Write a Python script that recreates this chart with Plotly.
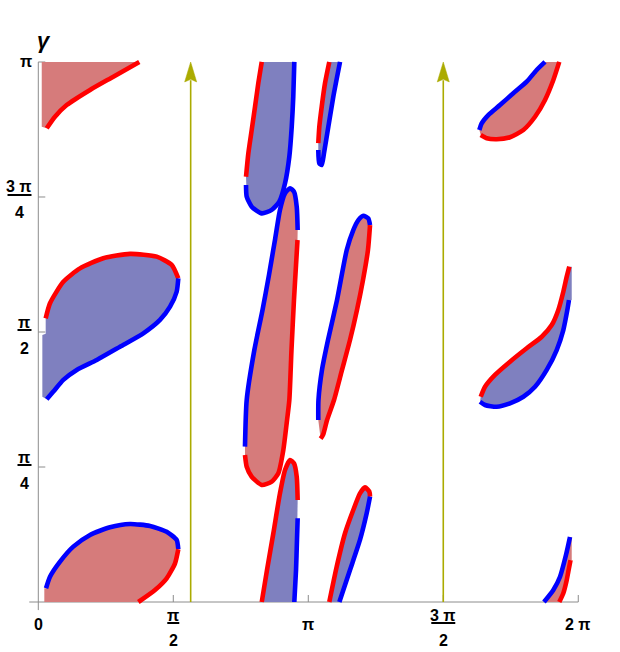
import numpy as np
import plotly.graph_objects as go

PI = np.pi

# ---------------- data (radians) ----------------
# Region A (top-left, red fill)
A_red_x = [0.098, 0.194, 0.330, 0.602, 0.873, 1.175]
A_red_y = [2.756, 2.823, 2.891, 2.979, 3.056, 3.142]
A_edge_x = [0.040, 0.040]
A_edge_y = [3.142, 2.765]

# Region B (left middle, blue fill)
B_red_x = [0.086, 0.136, 0.291, 0.485, 0.756, 1.067, 1.378, 1.552, 1.629]
B_red_y = [1.650, 1.738, 1.863, 1.941, 2.000, 2.025, 2.009, 1.961, 1.883]
B_blue_x = [1.629, 1.610, 1.533, 1.416, 1.222, 0.951, 0.680, 0.447, 0.291, 0.175, 0.098]
B_blue_y = [1.883, 1.805, 1.718, 1.641, 1.563, 1.485, 1.408, 1.350, 1.292, 1.224, 1.179]
B_edge_x = [0.047, 0.047, 0.086]
B_edge_y = [1.194, 1.553, 1.560]

# Region C (bottom-left, red fill)
C_blue_x = [0.090, 0.136, 0.253, 0.407, 0.602, 0.834, 1.067, 1.300, 1.494, 1.610, 1.629]
C_blue_y = [0.080, 0.147, 0.235, 0.322, 0.390, 0.435, 0.454, 0.442, 0.409, 0.361, 0.307]
C_red_x = [1.629, 1.591, 1.494, 1.358, 1.164]
C_red_y = [0.307, 0.225, 0.138, 0.070, 0.0]
C_edge_x = [0.070, 0.070]
C_edge_y = [0.0, 0.080]

# Region D (top centre, blue fill)
D_red_x = [2.600, 2.560, 2.522, 2.483, 2.444, 2.417]
D_red_y = [3.142, 3.018, 2.882, 2.746, 2.610, 2.474]
D_blue_x = [2.417, 2.425, 2.483, 2.600, 2.716, 2.804, 2.871, 2.921, 2.949, 2.967, 2.979]
D_blue_y = [2.426, 2.358, 2.300, 2.261, 2.281, 2.329, 2.436, 2.591, 2.765, 2.940, 3.142]

# Region E (centre tall, red fill)
E_blue_x = [2.405, 2.425, 2.514, 2.609, 2.684, 2.734, 2.754, 2.812, 2.871, 2.929, 2.975, 3.007, 3.018]
E_blue_y = [0.904, 1.175, 1.466, 1.699, 1.902, 2.048, 2.106, 2.281, 2.378, 2.407, 2.387, 2.300, 2.164]
E_red_x = [3.016, 2.999, 2.975, 2.946, 2.921, 2.890, 2.851, 2.793, 2.716, 2.600, 2.483, 2.425, 2.405]
E_red_y = [2.106, 1.961, 1.757, 1.466, 1.175, 1.040, 0.884, 0.749, 0.700, 0.681, 0.729, 0.787, 0.855]

# Region I (bottom centre, blue fill)
I_red_x = [2.600, 2.661, 2.735, 2.812, 2.871, 2.929, 2.975, 3.007, 3.018]
I_red_y = [0.0, 0.186, 0.400, 0.632, 0.768, 0.826, 0.807, 0.729, 0.593]
I_blue_x = [3.018, 3.010, 2.999, 2.979]
I_blue_y = [0.487, 0.361, 0.186, 0.0]

# Region H (bottom right of centre, blue fill)
H_red_x = [3.386, 3.472, 3.569, 3.665, 3.743, 3.802, 3.852, 3.860]
H_red_y = [0.0, 0.205, 0.400, 0.535, 0.632, 0.667, 0.642, 0.613]
H_blue_x = [3.860, 3.821, 3.743, 3.627, 3.503]
H_blue_y = [0.613, 0.516, 0.361, 0.186, 0.0]

# Region F (small top, blue fill)
F_red_x = [3.386, 3.336, 3.298, 3.270, 3.258]
F_red_y = [3.142, 3.018, 2.882, 2.765, 2.669]
F_blue_x = [3.258, 3.270, 3.298, 3.324, 3.375, 3.433, 3.511]
F_blue_y = [2.630, 2.552, 2.542, 2.610, 2.765, 2.940, 3.142]

# Region G (centre right, red fill)
G_blue_x = [3.258, 3.260, 3.301, 3.371, 3.476, 3.589, 3.665, 3.724, 3.782, 3.840, 3.860]
G_blue_y = [1.059, 1.175, 1.350, 1.524, 1.757, 2.048, 2.164, 2.222, 2.247, 2.232, 2.193]
G_red_x = [3.860, 3.836, 3.778, 3.708, 3.627, 3.534, 3.441, 3.360, 3.313, 3.285]
G_red_y = [2.193, 2.048, 1.873, 1.699, 1.524, 1.350, 1.175, 1.059, 0.972, 0.950]

# Region J (top right, red fill)
J_blue_x = [5.896, 5.799, 5.683, 5.527, 5.372, 5.236, 5.159, 5.132]
J_blue_y = [3.142, 3.095, 3.027, 2.960, 2.891, 2.833, 2.785, 2.746]
J_red_x = [5.148, 5.218, 5.334, 5.489, 5.644, 5.780, 5.896, 5.993, 6.062]
J_red_y = [2.717, 2.698, 2.692, 2.704, 2.746, 2.823, 2.921, 3.037, 3.142]

# Region K (right middle, blue fill)
K_red_x = [6.179, 6.149, 6.109, 6.051, 5.974, 5.858, 5.683, 5.489, 5.314, 5.198, 5.148]
K_red_y = [1.951, 1.893, 1.805, 1.699, 1.611, 1.543, 1.476, 1.398, 1.321, 1.252, 1.194]
K_blue_x = [5.140, 5.198, 5.334, 5.489, 5.644, 5.780, 5.916, 6.032, 6.109, 6.156, 6.175]
K_blue_y = [1.165, 1.146, 1.136, 1.156, 1.194, 1.252, 1.350, 1.466, 1.582, 1.699, 1.757]
K_edge_x = [6.207, 6.207]
K_edge_y = [1.757, 1.951]

# Region L (bottom right, red fill)
L_blue_x = [5.884, 5.993, 6.071, 6.140, 6.187]
L_blue_y = [0.0, 0.070, 0.147, 0.273, 0.378]
L_red_x = [6.062, 6.109, 6.149, 6.167, 6.193]
L_red_y = [0.0, 0.051, 0.128, 0.176, 0.244]
L_edge_x = [6.207, 6.207]
L_edge_y = [0.378, 0.244]

# vertical arrows
arrow_x = [1.773, 3 * PI / 2]

# ticks
x_tick_vals = [PI / 2, PI, 3 * PI / 2, 2 * PI]
y_tick_vals = [PI / 4, PI / 2, 3 * PI / 4, PI]

# ---------------- styles ----------------
RED_FILL = "rgb(214,123,123)"
BLUE_FILL = "rgb(127,128,191)"
RED_LINE = "rgb(255,0,0)"
BLUE_LINE = "rgb(0,0,255)"
ARROW = "rgb(171,171,0)"
AXIS = "rgb(140,140,140)"
LW = 4.6
FONT = "Liberation Sans"
FS = 16

fig = go.Figure()


def poly(*parts):
    xs, ys = [], []
    for px, py in parts:
        xs += list(px)
        ys += list(py)
    return xs, ys


def rev(a):
    return list(a)[::-1]


regions = [
    (RED_FILL, poly((A_red_x, A_red_y), (A_edge_x, A_edge_y))),
    (BLUE_FILL, poly((B_red_x, B_red_y), (B_blue_x, B_blue_y), (B_edge_x, B_edge_y))),
    (RED_FILL, poly((C_blue_x, C_blue_y), (C_red_x, C_red_y), (C_edge_x, C_edge_y))),
    (BLUE_FILL, poly((D_red_x, D_red_y), (D_blue_x, D_blue_y))),
    (RED_FILL, poly((E_blue_x, E_blue_y), (E_red_x, E_red_y))),
    (BLUE_FILL, poly((I_red_x, I_red_y), (I_blue_x, I_blue_y))),
    (BLUE_FILL, poly((H_red_x, H_red_y), (H_blue_x, H_blue_y))),
    (BLUE_FILL, poly((F_red_x, F_red_y), (F_blue_x, F_blue_y))),
    (RED_FILL, poly((G_blue_x, G_blue_y), (G_red_x, G_red_y))),
    (RED_FILL, poly((J_blue_x, J_blue_y), (J_red_x, J_red_y))),
    (BLUE_FILL, poly((K_red_x, K_red_y), (K_blue_x, K_blue_y), (K_edge_x, K_edge_y))),
    (RED_FILL, poly((L_blue_x, L_blue_y), (L_edge_x, L_edge_y), (rev(L_red_x), rev(L_red_y)))),
]

for col, (xs, ys) in regions:
    fig.add_trace(go.Scatter(x=xs, y=ys, mode="lines", fill="toself", fillcolor=col,
                             line=dict(width=0, color=col), hoverinfo="skip"))

curves = [
    (RED_LINE, A_red_x, A_red_y),
    (RED_LINE, B_red_x, B_red_y), (BLUE_LINE, B_blue_x, B_blue_y),
    (BLUE_LINE, C_blue_x, C_blue_y), (RED_LINE, C_red_x, C_red_y),
    (RED_LINE, D_red_x, D_red_y), (BLUE_LINE, D_blue_x, D_blue_y),
    (BLUE_LINE, E_blue_x, E_blue_y), (RED_LINE, E_red_x, E_red_y),
    (RED_LINE, I_red_x, I_red_y), (BLUE_LINE, I_blue_x, I_blue_y),
    (RED_LINE, H_red_x, H_red_y), (BLUE_LINE, H_blue_x, H_blue_y),
    (RED_LINE, F_red_x, F_red_y), (BLUE_LINE, F_blue_x, F_blue_y),
    (BLUE_LINE, G_blue_x, G_blue_y), (RED_LINE, G_red_x, G_red_y),
    (BLUE_LINE, J_blue_x, J_blue_y), (RED_LINE, J_red_x, J_red_y),
    (RED_LINE, K_red_x, K_red_y), (BLUE_LINE, K_blue_x, K_blue_y),
    (BLUE_LINE, L_blue_x, L_blue_y), (RED_LINE, L_red_x, L_red_y),
]
for col, xs, ys in curves:
    fig.add_trace(go.Scatter(x=xs, y=ys, mode="lines",
                             line=dict(color=col, width=LW, shape="spline", smoothing=0.6),
                             hoverinfo="skip"))

# arrows
HEAD_H = 0.116
HEAD_W = 0.07
for ax in arrow_x:
    fig.add_trace(go.Scatter(x=[ax, ax], y=[0, PI - HEAD_H + 0.01], mode="lines",
                             line=dict(color=ARROW, width=1.6), hoverinfo="skip"))
    fig.add_trace(go.Scatter(x=[ax - HEAD_W, ax, ax + HEAD_W, ax, ax - HEAD_W],
                             y=[PI - HEAD_H, PI, PI - HEAD_H, PI - HEAD_H + 0.015, PI - HEAD_H],
                             mode="lines", fill="toself", fillcolor=ARROW,
                             line=dict(color=ARROW, width=0.5), hoverinfo="skip"))

shapes = []
# axes
shapes.append(dict(type="line", xref="x", yref="y", x0=-0.105, x1=2 * PI, y0=0, y1=0,
                   line=dict(color=AXIS, width=1), layer="below"))
shapes.append(dict(type="line", xref="x", yref="y", x0=0, x1=0, y0=-0.047, y1=PI,
                   line=dict(color=AXIS, width=1), layer="below"))
for t in x_tick_vals:
    shapes.append(dict(type="line", xref="x", yref="y", x0=t, x1=t,
                       ysizemode="pixel", yanchor=0, y0=0, y1=7,
                       line=dict(color=AXIS, width=1), layer="below"))
for t in y_tick_vals:
    shapes.append(dict(type="line", xref="x", yref="y", y0=t, y1=t,
                       xsizemode="pixel", xanchor=0, x0=0, x1=7,
                       line=dict(color=AXIS, width=1), layer="below"))

annotations = []


def label(x, y, text, xshift=0, yshift=0, size=FS):
    annotations.append(dict(x=x, y=y, xref="x", yref="y", text=text, showarrow=False,
                            xshift=xshift, yshift=yshift, xanchor="center", yanchor="middle",
                            font=dict(family=FONT, size=size, color="black")))


def frac_bar(xa, ya, xoff0, xoff1, yoff):
    shapes.append(dict(type="line", xref="x", yref="y",
                       xsizemode="pixel", xanchor=xa, x0=xoff0, x1=xoff1,
                       ysizemode="pixel", yanchor=ya, y0=yoff, y1=yoff,
                       line=dict(color="black", width=2)))


# x-axis labels
x_labels = ["0", "π/2", "π", "3π/2", "2π"]
x_label_pos = [0, PI / 2, PI, 3 * PI / 2, 2 * PI]
for pos, lab in zip(x_label_pos, x_labels):
    if "/" in lab:
        num, den = lab.split("/")
        num = num.replace("π", " π") if num != "π" else num
        hw = 6 if num == "π" else 12
        label(pos, 0, "<b>" + num + "</b>", yshift=-13)
        frac_bar(pos, 0, -hw, hw, -21)
        label(pos, 0, "<b>" + den + "</b>", yshift=-38)
    else:
        label(pos, 0, "<b>" + lab.replace("2π", "2 π") + "</b>", yshift=-22)

# y-axis labels
y_labels = ["π/4", "π/2", "3π/4", "π"]
y_label_pos = [PI / 4, PI / 2, 3 * PI / 4, PI]
for pos, lab in zip(y_label_pos, y_labels):
    if "/" in lab:
        num, den = lab.split("/")
        if num == "π":
            cx, hw = -13.8, 7
        else:
            num = "3 π"
            cx, hw = -18.8, 12
        label(0, pos, "<b>" + num + "</b>", xshift=cx, yshift=10)
        frac_bar(0, pos, cx - hw, cx + hw, 2)
        label(0, pos, "<b>" + den + "</b>", xshift=cx, yshift=-16)
    else:
        label(0, pos, "<b>" + lab + "</b>", xshift=-12.6, yshift=0)

# axis name
label(0, PI, "<b><i>γ</i></b>", xshift=6, yshift=21, size=22)

fig.update_layout(
    width=620, height=652,
    margin=dict(l=0, r=0, t=0, b=0),
    paper_bgcolor="white", plot_bgcolor="white",
    showlegend=False,
    xaxis=dict(range=[-38.3 / 85.94, (620 - 38.3) / 85.94], visible=False, fixedrange=True),
    yaxis=dict(range=[-50 / 171.89, 602 / 171.89], visible=False, fixedrange=True),
    shapes=shapes,
    annotations=annotations,
)

fig.write_html("out.html")
